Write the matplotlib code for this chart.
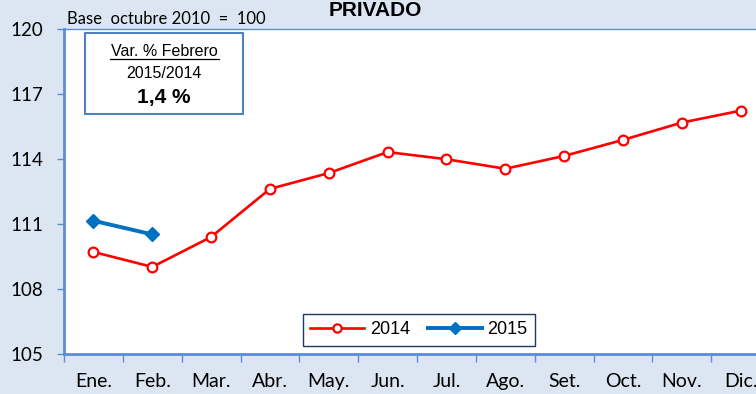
"""Private-sector index, monthly 2014 vs 2015 (base Oct 2010 = 100)."""

import matplotlib.pyplot as plt
import numpy as np

# --- Data ---
months = ["Ene.", "Feb.", "Mar.", "Abr.", "May.", "Jun.",
          "Jul.", "Ago.", "Set.", "Oct.", "Nov.", "Dic."]
idx_2014 = [109.71, 109.02, 110.40, 112.62, 113.35, 114.32,
            113.99, 113.55, 114.14, 114.88, 115.68, 116.23]
idx_2015 = [111.15, 110.52]
yticks = [105, 108, 111, 114, 117, 120]

BG = "#DCE6F2"
AXIS_BLUE = "#5B8DD6"
RED = "#FF0000"
BLUE = "#0070C0"
TICK_FONT = "Lato"
BOX_FONT = "Liberation Sans"

W, H = 756, 394
fig = plt.figure(figsize=(W / 100, H / 100), dpi=100, facecolor=BG)

# plot area runs past the right edge of the canvas
ax = fig.add_axes([64 / W, 40 / H, 706 / W, 325 / H])
ax.set_facecolor("white")

x = np.arange(len(months))
ax.plot(x, idx_2014, color=RED, linewidth=1.9, marker="o", markersize=7,
        markerfacecolor="white", markeredgecolor=RED, markeredgewidth=1.6,
        label="2014", zorder=4)
ax.plot(x[:len(idx_2015)], idx_2015, color=BLUE, linewidth=2.8, marker="D",
        markersize=7, markerfacecolor=BLUE, markeredgecolor=BLUE,
        label="2015", zorder=5)

ax.set_xlim(-0.5, len(months) - 0.5)
ax.set_ylim(105, 120)

# category labels centred, tick marks on category boundaries
ax.set_xticks(x)
ax.set_xticklabels(months, fontsize=14, family=TICK_FONT)
ax.tick_params(axis="x", which="major", length=0, pad=14)
ax.set_xticks(np.arange(-0.5, len(months)), minor=True)
ax.tick_params(axis="x", which="minor", length=6, width=1, color=AXIS_BLUE,
               direction="out")

ax.set_yticks(yticks)
ax.set_yticklabels([str(v) for v in yticks], fontsize=13.5, family=TICK_FONT)
ax.tick_params(axis="y", length=5, width=1, color=AXIS_BLUE, pad=10,
               direction="out")

for side in ["left", "bottom"]:
    ax.spines[side].set_color(AXIS_BLUE)
    ax.spines[side].set_linewidth(2)
ax.spines["top"].set_color(AXIS_BLUE)
ax.spines["top"].set_linewidth(1)
ax.spines["right"].set_visible(False)

# titles
fig.text(375 / W, 1 - 11 / H, "PRIVADO", ha="center", va="center",
         fontsize=15, fontweight="bold", family=BOX_FONT)
fig.text(67 / W, 1 - 19 / H, "Base  octubre 2010  =  100", ha="left",
         va="center", fontsize=12, family=TICK_FONT)

# variation box
box = plt.Rectangle((85 / W, 1 - 114 / H), 158 / W, 81 / H,
                    transform=fig.transFigure, facecolor="white",
                    edgecolor="#4F81BD", linewidth=1.5, zorder=6)
fig.add_artist(box)
fig.text(164 / W, 1 - 51 / H, "Var. % Febrero", ha="center", va="center",
         fontsize=11.5, family=BOX_FONT, zorder=7)
fig.add_artist(plt.Line2D([110 / W, 219 / W], [1 - 58.5 / H, 1 - 58.5 / H],
                          transform=fig.transFigure, color="black",
                          linewidth=0.9, zorder=7))
fig.text(164 / W, 1 - 73 / H, "2015/2014", ha="center", va="center",
         fontsize=11.5, family=BOX_FONT, zorder=7)
fig.text(164 / W, 1 - 97 / H, "1,4 %", ha="center", va="center",
         fontsize=15, fontweight="bold", family=BOX_FONT, zorder=7)

leg = ax.legend(loc="center", bbox_to_anchor=(419 / W, 1 - 330 / H),
                bbox_transform=fig.transFigure, ncol=2, frameon=True,
                fancybox=False, framealpha=1, edgecolor="#1F3864",
                prop={"family": BOX_FONT, "size": 13}, handlelength=3.0,
                columnspacing=1.0, handletextpad=0.3, borderpad=0.4,
                borderaxespad=0, markerscale=0.85)
leg.get_frame().set_linewidth(1)

fig.savefig("out.png", dpi=100, facecolor=BG)
